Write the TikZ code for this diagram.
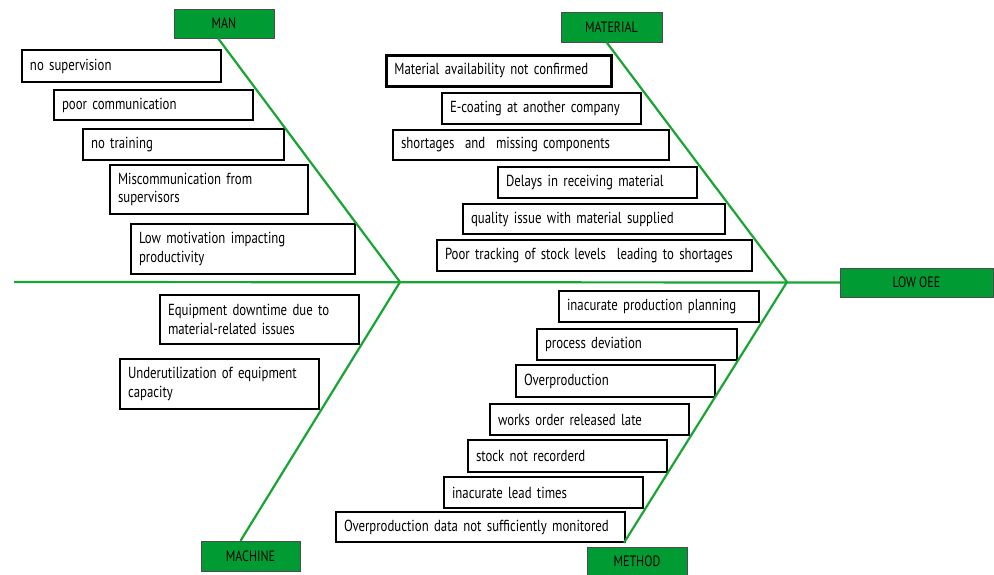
\documentclass[tikz,border=0pt]{standalone}
\usepackage{fontspec}
\setmainfont{PT Sans}[FakeStretch=0.8]
\usetikzlibrary{positioning}
\definecolor{bonegreen}{RGB}{24,165,52}
\definecolor{headgreen}{RGB}{0,156,51}

\begin{document}
\begin{tikzpicture}[x=1pt,y=-1pt]
    %styles
    \tikzstyle{head}=[rectangle,draw=black!70,fill=headgreen,minimum width=100pt,minimum height=29pt,font=\fontsize{15}{17}\selectfont]
    \tikzstyle{cause}=[rectangle,draw,line width=2pt,anchor=north west,inner xsep=8pt,inner ysep=1pt,align=left,font=\fontsize{16}{18.5}\selectfont]
    \tikzstyle{bone}=[draw=bonegreen,line width=2.2pt]
    \useasboundingbox (0,0) rectangle (994,574);

    %heads
    \node[head] (man) at (224,23.5) {MAN};
    \node[head,minimum width=101pt,minimum height=30pt] (mat) at (611.5,27) {MATERIAL};
    \node[head,minimum width=153pt] (oee) at (916.5,282.5) {LOW OEE};
    \node[head,minimum width=99pt,minimum height=30pt] (mach) at (250.5,556) {MACHINE};
    \node[head,minimum height=28pt] (meth) at (637,561) {METHOD};

    %man
    \node[cause,text width=183pt,minimum height=32pt] (man1) at (21,49) {no supervision};
    \node[cause,text width=183pt,minimum height=30pt] (man2) at (53,89) {poor communication};
    \node[cause,text width=185pt,minimum height=31pt] (man3) at (82,128) {no training};
    \node[cause,text width=182pt,minimum height=49pt] (man4) at (109,164) {Miscommunication from\\supervisors};
    \node[cause,text width=208pt,minimum height=50pt] (man5) at (130,223) {Low motivation impacting\\productivity};

    %material
    \node[cause,line width=2.8pt,text width=209pt,minimum height=31pt] (mat1) at (385,54) {Material availability not confirmed};
    \node[cause,text width=183pt,minimum height=31pt] (mat2) at (441,92) {E-coating at another company};
    \node[cause,text width=260pt,minimum height=30pt] (mat3) at (392,129) {shortages\ \ and\ \ missing components};
    \node[cause,text width=183pt,minimum height=31pt] (mat4) at (497,166) {Delays in receiving material};
    \node[cause,text width=246pt,minimum height=30pt] (mat5) at (462,203) {quality issue with material supplied};
    \node[cause,text width=299pt,minimum height=31pt] (mat6) at (436,239) {Poor tracking of stock levels\ \ leading to shortages};

    %machine
    \node[cause,text width=183pt,minimum height=49pt] (mach1) at (159,294) {Equipment downtime due to\\material-related issues};
    \node[cause,text width=183pt,minimum height=50pt] (mach2) at (119,358) {Underutilization of equipment\\capacity};

    %method
    \node[cause,text width=184pt,minimum height=31pt] (meth1) at (558,290) {inacurate production planning};
    \node[cause,text width=184pt,minimum height=31pt] (meth2) at (536,328) {process deviation};
    \node[cause,text width=183pt,minimum height=32pt] (meth3) at (515,364) {Overproduction};
    \node[cause,text width=183pt,minimum height=31pt] (meth4) at (489,403) {works order released late};
    \node[cause,text width=183pt,minimum height=32pt] (meth5) at (467,439) {stock not recorderd};
    \node[cause,text width=183pt,minimum height=31pt] (meth6) at (443,476) {inacurate lead times};
    \node[cause,text width=273pt,minimum height=30pt] (meth7) at (335,511) {Overproduction data not sufficiently monitored};

    %bones
    \coordinate (tail) at (14,282);
    \coordinate (j1) at (400,282);
    \coordinate (j2) at (787,282);
    \draw[bone] (tail)--(oee.west);
    \draw[bone] ([xshift=-6pt]man.south)--(j1);
    \draw[bone] ([xshift=-10pt]mach.north)--(j1);
    \draw[bone] ([xshift=-5pt]mat.south)--(j2);
    \draw[bone] ([xshift=-13pt,yshift=4pt]meth.north)--(j2);
\end{tikzpicture}
\end{document}
